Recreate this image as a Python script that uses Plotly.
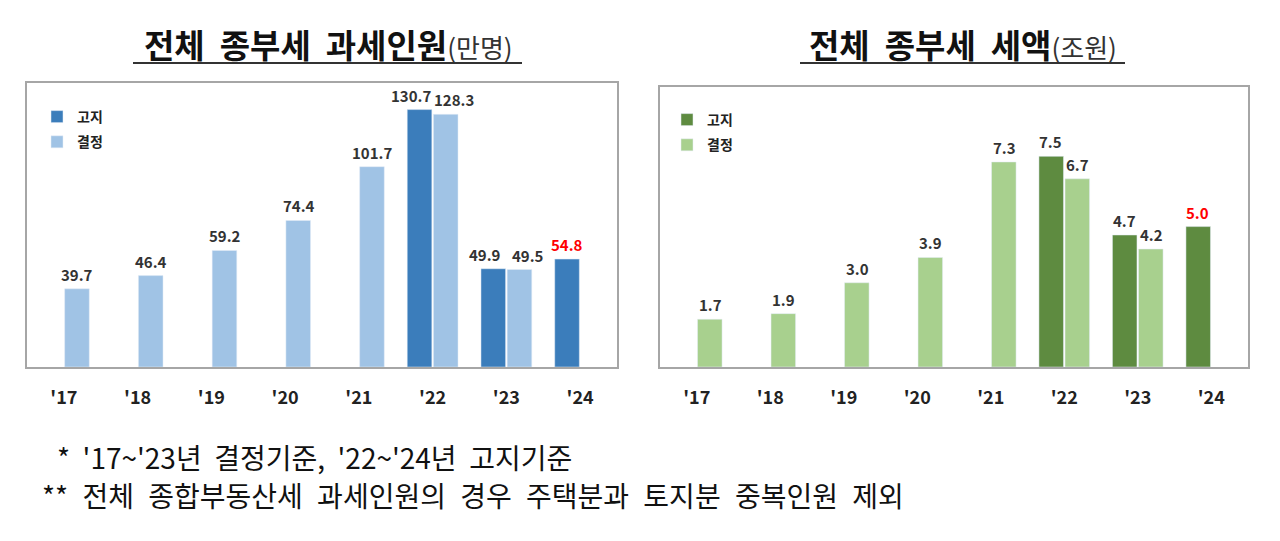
import plotly.graph_objects as go

# ---------------- data ----------------
years = ["'17", "'18", "'19", "'20", "'21", "'22", "'23", "'24"]

# 전체 종부세 과세인원 (만명)
people_goji = [None, None, None, None, None, 130.7, 49.9, 54.8]
people_gyeol = [39.7, 46.4, 59.2, 74.4, 101.7, 128.3, 49.5, None]

# 전체 종부세 세액 (조원)
tax_goji = [None, None, None, None, None, 7.5, 4.7, 5.0]
tax_gyeol = [1.7, 1.9, 3.0, 3.9, 7.3, 6.7, 4.2, None]

series_names = ["고지", "결정"]
highlight_year = "'24"

title_left = ["전체", "종부세", "과세인원"]
unit_left = "(만명)"
title_right = ["전체", "종부세", "세액"]
unit_right = "(조원)"

note1 = "* '17~'23년 결정기준, '22~'24년 고지기준"
note2 = "** 전체 종합부동산세 과세인원의 경우 주택분과 토지분 중복인원 제외"

# ---------------- style ----------------
BLUE_DARK = "#3b7dbb"
BLUE_LIGHT = "#a0c3e5"
GREEN_DARK = "#5e8b40"
GREEN_LIGHT = "#a8d08e"
LABEL_COLOR = "#333333"
HILITE = "#ff0000"
FONT = "Noto Sans CJK KR"

# page is 1280x541 with the default 8px body margin
OFF = 8
FW, FH = 1280 - OFF, 541 - OFF


def px(x):
    return (x - OFF) / FW


def py(y):
    return 1 - (y - OFF) / FH


fig = go.Figure()

fig.add_trace(go.Bar(x=years, y=people_goji, name=series_names[0], marker_color=BLUE_DARK,
                     xaxis="x", yaxis="y", legend="legend", legendgroup="a"))
fig.add_trace(go.Bar(x=years, y=people_gyeol, name=series_names[1], marker_color=BLUE_LIGHT,
                     xaxis="x", yaxis="y", legend="legend", legendgroup="b"))
fig.add_trace(go.Bar(x=years, y=tax_goji, name=series_names[0], marker_color=GREEN_DARK,
                     xaxis="x2", yaxis="y2", legend="legend2", legendgroup="c"))
fig.add_trace(go.Bar(x=years, y=tax_gyeol, name=series_names[1], marker_color=GREEN_LIGHT,
                     xaxis="x2", yaxis="y2", legend="legend2", legendgroup="d"))

annotations = []
slot_shift = 13.5


def add_labels(goji, gyeol, xref, yref, fmt, nudge):
    for i, yr in enumerate(years):
        both = goji[i] is not None and gyeol[i] is not None
        for vals, sgn in ((goji, -1), (gyeol, 1)):
            v = vals[i]
            if v is None:
                continue
            color = HILITE if yr == highlight_year else LABEL_COLOR
            annotations.append(dict(
                x=yr, y=v, xref=xref, yref=yref, text=fmt.format(v),
                showarrow=False, yanchor="bottom", yshift=2,
                xshift=sgn * (slot_shift + (nudge if both else 0)),
                font=dict(family=FONT, size=15, color=color, weight="bold"),
            ))


add_labels(people_goji, people_gyeol, "x", "y", "{:.1f}", 8)
add_labels(tax_goji, tax_gyeol, "x2", "y2", "{:.1f}", 0)

# titles
GAP = " \u00a0"
for cx, words, u in ((328, title_left, unit_left), (963, title_right, unit_right)):
    annotations.append(dict(
        x=px(cx), y=py(44), xref="paper", yref="paper", showarrow=False,
        xanchor="center", yanchor="middle",
        text=f"<b>{GAP.join(words)}</b><span style='font-size:26px;color:#333'>{u}</span>",
        font=dict(family=FONT, size=33, color="#111"),
    ))

# footnotes
annotations.append(dict(x=px(55), y=py(457), xref="paper", yref="paper", showarrow=False,
                        xanchor="left", yanchor="middle", text=note1.replace(" ", "\u00a0 "),
                        font=dict(family=FONT, size=28, color="#111")))
annotations.append(dict(x=px(40), y=py(495), xref="paper", yref="paper", showarrow=False,
                        xanchor="left", yanchor="middle", text=note2.replace(" ", "\u00a0\u200a "),
                        font=dict(family=FONT, size=28, color="#111")))

shapes = [
    dict(type="line", xref="paper", yref="paper", x0=px(133), x1=px(522),
         y0=py(63), y1=py(63), line=dict(color="#333", width=2)),
    dict(type="line", xref="paper", yref="paper", x0=px(800), x1=px(1125),
         y0=py(63), y1=py(63), line=dict(color="#333", width=2)),
]

xaxis_common = dict(type="category", range=[-0.5, 7.5], showline=True, mirror=True,
                    linecolor="#a6a6a6", linewidth=2, showgrid=False, zeroline=False,
                    ticks="", ticklabelstandoff=13, fixedrange=True,
                    tickfont=dict(family=FONT, size=18, color="#222", weight="bold"))
yaxis_common = dict(showline=True, mirror=True, linecolor="#a6a6a6", linewidth=2,
                    showgrid=False, zeroline=False, showticklabels=False, ticks="")

legend_common = dict(xanchor="left", yanchor="top", bgcolor="rgba(0,0,0,0)",
                     traceorder="grouped", tracegroupgap=4, itemwidth=30,
                     font=dict(family=FONT, size=14, color="#222", weight="bold"))

fig.update_layout(
    width=FW, height=FH, margin=dict(l=0, r=0, t=0, b=0),
    paper_bgcolor="white", plot_bgcolor="white",
    barmode="group", bargap=0.29, bargroupgap=0.06,
    xaxis=dict(domain=[px(27), px(617)], anchor="y", **xaxis_common),
    yaxis=dict(domain=[py(367), py(83)], anchor="x", range=[0, 144.2], **yaxis_common),
    xaxis2=dict(domain=[px(660), px(1248)], anchor="y2", **xaxis_common),
    yaxis2=dict(domain=[py(367), py(87)], anchor="x2", range=[0, 9.97], **yaxis_common),
    legend=dict(x=px(37), y=py(101), **legend_common),
    legend2=dict(x=px(667), y=py(104), **legend_common),
    annotations=annotations,
    shapes=shapes,
)

fig.write_html("out.html")
